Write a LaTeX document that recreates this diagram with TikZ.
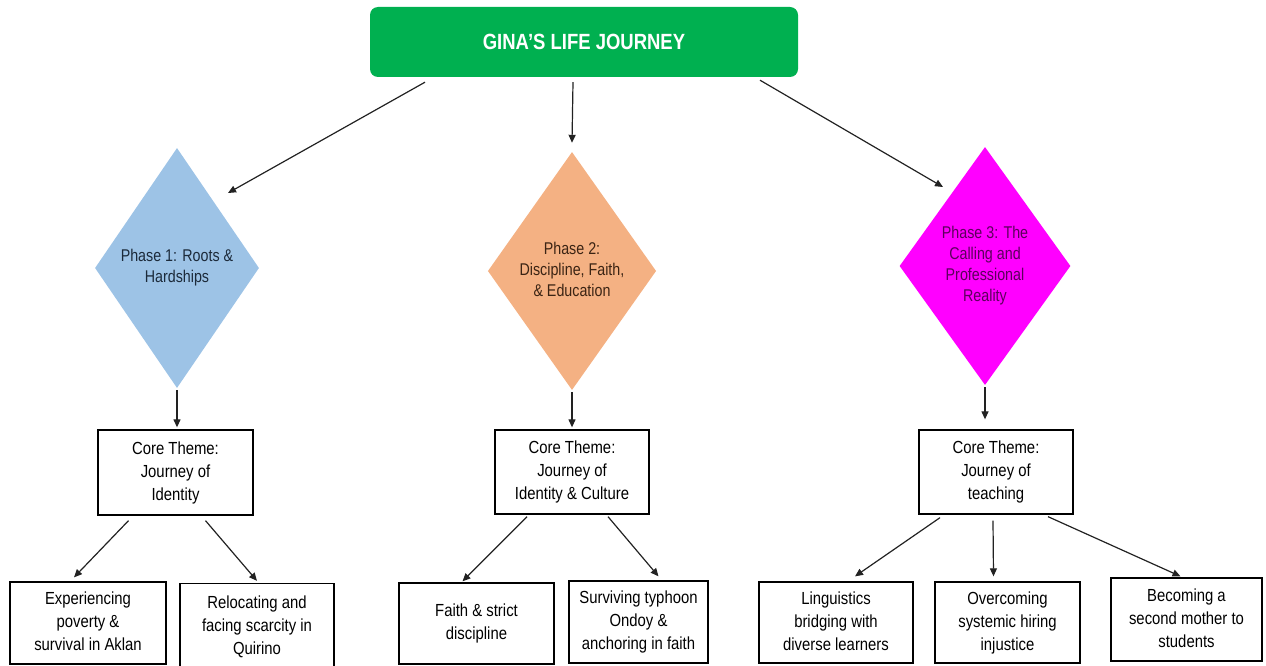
\documentclass[tikz,border=0pt]{standalone}
\usepackage{fontspec}
\setmainfont{Liberation Sans}
\usetikzlibrary{shapes.geometric,arrows.meta}
\definecolor{titlegreen}{HTML}{00B050}
\definecolor{pblue}{HTML}{9DC3E6}
\definecolor{porange}{HTML}{F4B183}
\definecolor{pmagenta}{HTML}{FF00FF}
\definecolor{tblue}{HTML}{1C2A3A}
\definecolor{tbrown}{HTML}{3B2414}
\definecolor{tpurple}{HTML}{5C005C}
\definecolor{linegray}{HTML}{222222}
\newcommand{\tx}[1]{\scalebox{0.85}[1]{\begin{tabular}{@{}c@{}}#1\end{tabular}}}
\newcommand{\dtx}[1]{\scalebox{0.84}[1]{\def\arraystretch{0.92}\begin{tabular}{@{}c@{}}#1\end{tabular}}}
\tikzset{
  titlebox/.style={rectangle, rounded corners=8pt, fill=titlegreen, text=white, inner sep=0pt,
    font=\fontsize{22}{24}\selectfont\bfseries},
  phase/.style={diamond, inner sep=0pt, draw=none, font=\fontsize{17}{23}\selectfont},
  themebox/.style={rectangle, draw=black, line width=1.3pt, fill=white, inner sep=0pt,
    font=\fontsize{17.5}{23}\selectfont},
  arr/.style={draw=linegray, line width=1.2pt, -{Triangle[length=8pt,width=7pt]}},
}
\begin{document}
\begin{tikzpicture}[x=1pt,y=-1pt]
\useasboundingbox (0,0) rectangle (1266,666);
% title
\node[titlebox, minimum width=428pt, minimum height=70pt] (title) at (584,42)
  {\scalebox{0.84}[1]{GINA'S LIFE JOURNEY}};
% phases
\node[phase, fill=pblue, text=tblue, minimum width=164pt, minimum height=240pt] (p1) at (177,268)
  {\dtx{Phase 1: Roots \&\\Hardships}};
\node[phase, fill=porange, text=tbrown, minimum width=165pt, minimum height=238pt] (p2) at (572,271)
  {\dtx{Phase 2:\\Discipline, Faith,\\\& Education}};
\node[phase, fill=pmagenta, text=tpurple, minimum width=166pt, minimum height=238pt] (p3) at (985,266)
  {\dtx{Phase 3: The\\Calling and\\Professional\\Reality}};
% core themes
\node[themebox, minimum width=155pt, minimum height=85pt] (c1) at (175.5,472.5)
  {\tx{Core Theme:\\Journey of\\Identity}};
\node[themebox, minimum width=154pt, minimum height=84pt] (c2) at (572,472)
  {\tx{Core Theme:\\Journey of\\Identity \& Culture}};
\node[themebox, minimum width=154pt, minimum height=84pt] (c3) at (996,472)
  {\tx{Core Theme:\\Journey of\\teaching}};
% leaves
\node[themebox, minimum width=156pt, minimum height=82pt] (l1) at (88,623)
  {\tx{Experiencing\\poverty \&\\survival in Aklan}};
\node[themebox, minimum width=154pt, minimum height=87pt] (l2) at (257,627)
  {\tx{Relocating and\\facing scarcity in\\Quirino}};
\node[themebox, minimum width=155pt, minimum height=81pt] (l3) at (476.5,623.5)
  {\tx{Faith \& strict\\discipline}};
\node[themebox, minimum width=139pt, minimum height=82pt] (l4) at (638.5,622)
  {\tx{Surviving typhoon\\Ondoy \&\\anchoring in faith}};
\node[themebox, minimum width=154pt, minimum height=81pt] (l5) at (836,622.5)
  {\tx{Linguistics\\bridging with\\diverse learners}};
\node[themebox, minimum width=145pt, minimum height=81pt] (l6) at (1007.5,622.5)
  {\tx{Overcoming\\systemic hiring\\injustice}};
\node[themebox, minimum width=151pt, minimum height=83pt] (l7) at (1186.5,619.5)
  {\tx{Becoming a\\second mother to\\students}};
% free ends of title arrows
\coordinate (e1) at (228,193);
\coordinate (e3) at (943,187);
% connectors
\draw[arr] ([xshift=-159pt,yshift=-5pt]title.south) -- (e1);
\draw[arr] ([xshift=-11pt,yshift=-5pt]title.south) -- ([yshift=9pt]p2.north);
\draw[arr] ([xshift=176pt,yshift=-3pt]title.south) -- (e3);
\draw[arr] ([yshift=-2pt]p1.south) -- ([xshift=1.5pt,yshift=2pt]c1.north);
\draw[arr] ([yshift=-2pt]p2.south) -- ([yshift=2pt]c2.north);
\draw[arr] ([yshift=-2pt]p3.south) -- ([xshift=-11pt,yshift=10pt]c3.north);
\draw[arr] ([xshift=-47pt,yshift=-5pt]c1.south) -- ([xshift=-14pt,yshift=4pt]l1.north);
\draw[arr] ([xshift=30pt,yshift=-5pt]c1.south) -- ([yshift=2pt]l2.north);
\draw[arr] ([xshift=-45pt,yshift=-2pt]c2.south) -- ([xshift=-14pt,yshift=1pt]l3.north);
\draw[arr] ([xshift=36pt,yshift=-2pt]c2.south) -- ([xshift=20pt,yshift=4pt]l4.north);
\draw[arr] ([xshift=-56pt,yshift=-3pt]c3.south) -- ([xshift=19pt,yshift=5pt]l5.north);
\draw[arr] ([xshift=-3pt,yshift=-6pt]c3.south) -- ([xshift=-14pt,yshift=5pt]l6.north);
\draw[arr] ([xshift=52pt,yshift=-2pt]c3.south) -- ([xshift=-6pt,yshift=1pt]l7.north);
\end{tikzpicture}
\end{document}
